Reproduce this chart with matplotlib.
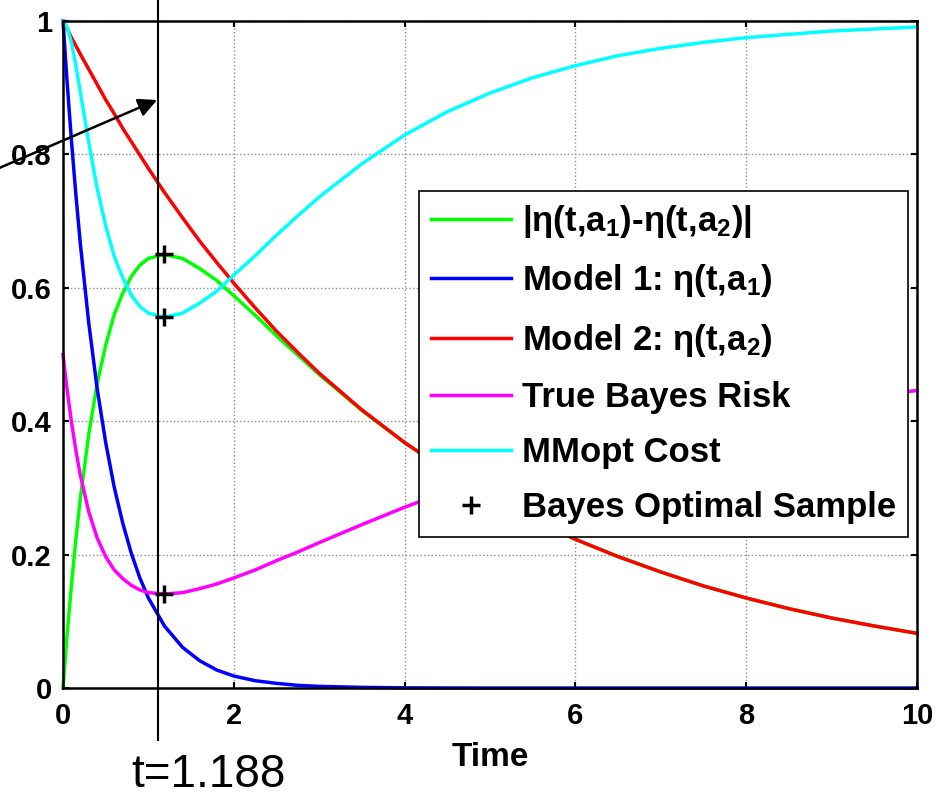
import numpy as np
import matplotlib
matplotlib.use('Agg')
import matplotlib.pyplot as plt
from matplotlib.lines import Line2D
import matplotlib.transforms as mtransforms

plt.rcParams['font.family'] = ['Liberation Sans', 'DejaVu Sans']
plt.rcParams['font.weight'] = 'bold'
plt.rcParams['mathtext.fontset'] = 'custom'
plt.rcParams['mathtext.rm'] = 'Liberation Sans:bold'
plt.rcParams['mathtext.it'] = 'Liberation Sans:bold'
plt.rcParams['mathtext.bf'] = 'Liberation Sans:bold'

# values
t = [0, 0.05, 0.1, 0.15, 0.2, 0.3, 0.4, 0.5, 0.6, 0.7, 0.8, 0.9, 1.0, 1.188,
     1.4, 1.6, 1.8, 2.0, 2.25, 2.5, 2.75, 3.0, 3.5, 4.0, 4.5, 5.0, 5.5, 6.0,
     6.5, 7.0, 7.5, 8.0, 8.5, 9.0, 9.5, 10.0]
model1 = [1.0, 0.905, 0.819, 0.741, 0.670, 0.549, 0.449, 0.368, 0.301, 0.247,
          0.202, 0.165, 0.135, 0.093, 0.061, 0.041, 0.027, 0.018, 0.011, 0.007,
          0.004, 0.0025, 0.001, 0.0003, 0.0001, 0, 0, 0, 0, 0, 0, 0, 0, 0, 0, 0]
model2 = [1.0, 0.988, 0.975, 0.963, 0.951, 0.928, 0.905, 0.882, 0.861, 0.839,
          0.819, 0.799, 0.779, 0.743, 0.705, 0.670, 0.638, 0.607, 0.570, 0.535,
          0.503, 0.472, 0.417, 0.368, 0.325, 0.287, 0.253, 0.223, 0.197, 0.174,
          0.153, 0.135, 0.119, 0.105, 0.093, 0.082]
diff = [0.0, 0.083, 0.156, 0.222, 0.281, 0.379, 0.456, 0.514, 0.560, 0.592,
        0.617, 0.634, 0.644, 0.650, 0.644, 0.629, 0.611, 0.588, 0.559, 0.528,
        0.499, 0.470, 0.416, 0.368, 0.325, 0.287, 0.253, 0.223, 0.197, 0.174,
        0.153, 0.135, 0.119, 0.105, 0.093, 0.082]
bayes_risk = [0.5, 0.445, 0.398, 0.357, 0.321, 0.265, 0.225, 0.197, 0.177, 0.164,
              0.154, 0.147, 0.143, 0.141, 0.143, 0.149, 0.156, 0.165, 0.177, 0.191,
              0.204, 0.218, 0.245, 0.271, 0.295, 0.317, 0.338, 0.356, 0.372, 0.387,
              0.400, 0.411, 0.422, 0.431, 0.439, 0.446]
mmopt = [1.0, 0.990, 0.967, 0.934, 0.896, 0.819, 0.749, 0.693, 0.647, 0.615,
         0.589, 0.572, 0.562, 0.556, 0.562, 0.577, 0.595, 0.619, 0.648, 0.679,
         0.708, 0.736, 0.786, 0.829, 0.864, 0.892, 0.915, 0.933, 0.948, 0.959,
         0.968, 0.975, 0.980, 0.985, 0.988, 0.991]

t_opt = 1.188
opt_vals = [0.650, 0.556, 0.141]
t_line = 1.11

fig = plt.figure(figsize=(9.36, 7.98), dpi=100)
ax = fig.add_axes([0.0673, 0.1378, 0.9124, 0.8359])

lw = 2.5
ax.plot(t, diff, color=(0, 1, 0), lw=lw, label=r'|η(t,a$_1$)-η(t,a$_2$)|', clip_on=False)
ax.plot(t, model1, color=(0, 0, 1), lw=lw, label=r'Model 1: η(t,a$_1$)', clip_on=False)
ax.plot(t, model2, color=(1, 0, 0), lw=lw, label=r'Model 2: η(t,a$_2$)', clip_on=False)
ax.plot(t, bayes_risk, color=(1, 0, 1), lw=lw, label='True Bayes Risk', clip_on=False)
ax.plot(t, mmopt, color=(0, 1, 1), lw=lw, label='MMopt Cost', clip_on=False)
ax.plot([t_opt] * 3, opt_vals, ls='none', marker='+', ms=13, mew=2.5,
        color='k', label='Bayes Optimal Sample', zorder=5)

ax.set_xlim(0, 10)
ax.set_ylim(0, 1)
ax.set_xticks([0, 2, 4, 6, 8, 10])
ax.set_xticklabels(['0', '2', '4', '6', '8', '10'])
ax.set_yticks([0, 0.2, 0.4, 0.6, 0.8, 1])
ax.set_yticklabels(['0', '0.2', '0.4', '0.6', '0.8', '1'])
ax.tick_params(direction='in', length=4.5, width=1.5, top=True, right=True,
               labelsize=21)
ax.tick_params(axis='x', pad=10)
ax.tick_params(axis='y', pad=8)
ax.grid(True, color='0.55', ls=':', lw=1.0)
for s in ax.spines.values():
    s.set_linewidth(1.8)
ax.set_xlabel('Time', fontsize=24, fontweight='bold', labelpad=9)

leg = ax.legend(loc='upper right', bbox_to_anchor=(0.9895, 0.745), borderaxespad=0,
                fontsize=25, fancybox=False, framealpha=1, edgecolor='k',
                handlelength=2.3, handletextpad=0.3, borderpad=0.35,
                labelspacing=0.64)
leg.get_frame().set_linewidth(1.2)

# vertical marker line running past the axes
trans = mtransforms.blended_transform_factory(ax.transData, fig.transFigure)
vline = Line2D([t_line, t_line], [0.0727, 1.0], transform=trans, color='k',
               lw=1.5, clip_on=False, zorder=6)
fig.add_artist(vline)

ax.annotate('', xy=(157, 698), xycoords='figure pixels',
            xytext=(-10, 626), textcoords='figure pixels',
            arrowprops=dict(arrowstyle='-|>', color='k', lw=1.8,
                            mutation_scale=28, shrinkA=0, shrinkB=0),
            annotation_clip=False)

fig.text(208 / 936, 1 / 798, 't=1.188', ha='center', va='bottom',
         fontsize=33, weight='normal')
fig.text(479 / 936, 1 + 8 / 798, 'Bayes Optimal Design', ha='center',
         va='baseline', fontsize=29.5)

fig.savefig('out.png', dpi=100)
